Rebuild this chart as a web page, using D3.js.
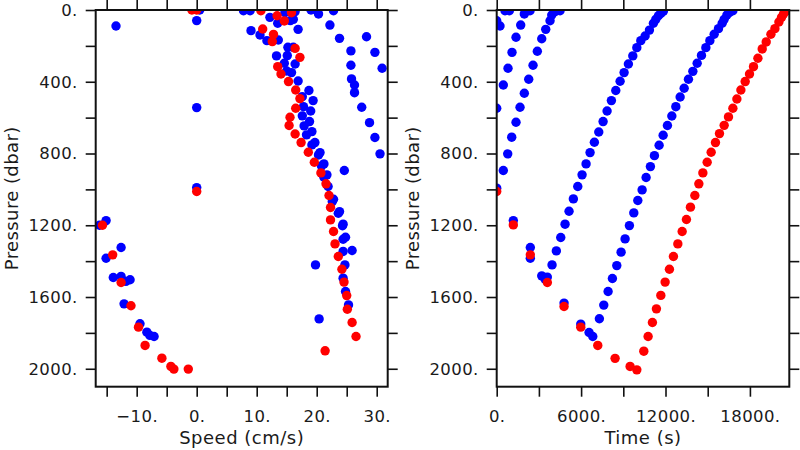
<!DOCTYPE html>
<html>
<head>
<meta charset="utf-8">
<script src="https://cdn.jsdelivr.net/npm/d3@7"></script>
<style>
  html, body { margin: 0; padding: 0; background: #fff; }
  svg { display: block; }
  text { font-family: "DejaVu Sans", sans-serif; fill: #1a1a1a; }
</style>
</head>
<body>
<svg id="chart" width="800" height="450"></svg>
<script>
// ---------------- DATA ----------------
// Left panel: [speed (cm/s), pressure (dbar)]
const speedBlue = [
  [0.5,0],[0,59],[-13.45,89],[0,544],[0,990],[-15.1,1174],[-16.2,1200],[-12.6,1324],[-15.1,1384],
  [-13.9,1491],[-12.6,1485],[-11.8,1513],[-11.1,1504],[-12.1,1638],[-9.45,1749],[-8.3,1796],[-7.8,1814],[-7.1,1820],
  [7.8,4],[8.9,4],[12.2,41],[14.7,15],[16.4,9],[16.1,52],[15.6,59],[13.5,74],[19.05,0],[20.3,22],[22.8,4],
  [22.2,84],[16.9,108],[9.05,115],[10.55,139],[11.7,171],[13.6,167],[23.8,158],[28.3,149],[15.2,208],[16.1,208],
  [25.7,228],[29.7,236],[13.3,256],[15.1,254],[14.6,297],[16.4,301],[25.7,308],[15.0,340],[15.8,349],[30.9,325],
  [16.9,396],[25.8,384],[26.3,418],[26.3,461],[18.7,449],[19.4,505],[17.6,483],[17.8,539],[19.0,563],[27.5,542],
  [17.6,590],[18.8,622],[17.9,646],[28.8,628],[19.2,678],[18.3,696],[19.7,739],[19.2,752],[29.7,711],[20.55,795],
  [20.3,808],[30.55,802],[21.2,858],[20.8,869],[24.6,895],[21.7,919],[21.2,932],[21.9,984],[22.8,1055],[22.6,1068],
  [23.8,1124],[23.6,1133],[24.4,1194],[24.3,1203],[24.8,1267],[24.4,1278],[24.4,1346],[25.9,1341],[19.8,1421],
  [24.7,1421],[24.4,1495],[24.8,1569],[25.3,1644],[20.4,1722]
];
const speedRed = [
  [-0.8,0],[0,0],[0,1012],[-15.7,1200],[-14.0,1365],[-12.6,1519],[-10.95,1649],[-9.7,1768],[-8.6,1870],
  [-5.8,1941],[-4.3,1987],[-3.8,2002],[-1.4,2002],
  [10.7,4],[13.4,32],[15.8,15],[14.6,61],[11.0,106],[12.8,136],[12.6,176],[16.4,214],[17.2,264],[13.5,316],
  [14.05,357],[15.3,399],[16.5,446],[17.2,494],[16.5,548],[15.55,598],[15.4,644],[16.4,691],[17.4,739],[18.6,793],
  [19.6,849],[20.7,908],[21.55,969],[22.05,1034],[22.3,1101],[22.3,1170],[22.8,1235],[23.05,1304],[23.6,1374],
  [24.2,1445],[24.55,1517],[25.0,1592],[25.1,1668],[25.9,1742],[26.55,1820],[21.4,1900]
];

// Right panel: [time (s), pressure (dbar)]
const timeBlue = [
  [0,60],[235,89],[0,548],[0,993],[590,4],[899,4],
  [1181,1174],[2390,1324],[2390,1384],[3201,1482],[3436,1500],[3600,1489],[4788,1634],[5976,1751],[6566,1798],[6830,1820],
  [470,418],[804,325],[1088,236],[1373,152],[1707,84],[1963,22],[2369,4],
  [470,895],[783,802],[1067,709],[1373,626],[1658,542],[1963,464],[2276,386],[2582,308],[2888,230],[3201,160],
  [3486,108],[3792,60],[3913,28],[4148,9],[4503,4],
  [3934,1421],[4240,1343],[4553,1268],[4859,1194],[5143,1122],[5449,1053],[5762,984],[6068,919],[6353,858],
  [6637,795],[6943,737],[7256,680],[7562,622],[7847,563],[8153,505],[8466,449],[8772,397],[9056,349],[9362,301],
  [9675,256],[9960,210],[10244,171],[10550,145],[10857,112],[11141,74],[11311,52],[11496,32],[11667,19],[11852,6],
  [7299,1721],[7612,1645],[7918,1569],[8224,1497],[8537,1425],[8843,1350],[9127,1276],[9433,1202],[9746,1131],
  [10031,1062],[10337,1003],[10621,934],[10927,873],[11212,812],[11546,754],[11831,698],[12137,644],[12450,591],
  [12734,539],[13040,485],[13325,436],[13631,386],[13944,342],[14250,297],[14556,253],[14868,210],[15153,171],
  [15459,135],[15765,104],[16028,74],[16170,52],[16362,28],[16547,13],[16789,4]
];
const timeRed = [
  [0,1012],[1181,1198],[2390,1365],[3600,1519],[4788,1653],[5976,1768],[7185,1870],[8416,1942],[9483,1987],[9960,2006],
  [10457,1902],[10764,1820],[11070,1742],[11354,1666],[11667,1591],[11973,1517],[12279,1445],[12564,1374],
  [12876,1304],[13183,1235],[13488,1168],[13773,1099],[14086,1034],
  [14370,969],[14655,908],[14961,849],[15245,793],[15552,739],[15837,689],[16170,643],[16477,596],[16789,548],
  [17074,496],[17358,446],[17664,399],[17970,357],[18255,316],[18568,269],[18874,217],[19158,178],[19493,135],
  [19777,104],[20061,67],[20247,41],[20389,22],[20560,6]
];

const speedTicks = [-15,-10,-5,0,5,10,15,20,25,30];
const speedLabeled = [-10,0,10,20,30];
const timeTicks = [0,3000,6000,9000,12000,15000,18000];
const timeLabeled = [0,6000,12000,18000];
const pressureTicks = [0,200,400,600,800,1000,1200,1400,1600,1800,2000];
const pressureLabeled = [0,400,800,1200,1600,2000];
const speedTitle = "Speed (cm/s)";
const timeTitle = "Time (s)";
const pressureTitle = "Pressure (dbar)";

// ---------------- DRAW ----------------
const svg = d3.select("#chart");
svg.append("rect").attr("width",800).attr("height",450).attr("fill","#fff");

const yTop = 10, yBot = 386.7;
const y = d3.scaleLinear().domain([0,2100]).range([yTop,yBot]);

const fmt = d => (d < 0 ? "\u2212" : "") + Math.abs(d) + ".";

function panel(id, x, xTicks, xLab, xTitle, blue, red) {
  const [x0, x1] = x.range();
  const g = svg.append("g");
  const tickFmtX = d => xLab.includes(d) ? fmt(d) : "";
  const tickFmtY = d => pressureLabeled.includes(d) ? fmt(d) : "";

  const styleAxis = a => {
    a.select(".domain").remove();
    a.selectAll(".tick line").attr("stroke","#111").attr("stroke-width",1.6);
    a.selectAll(".tick text").attr("fill","#1a1a1a").style("font-size","16.5px")
      .style("font-family","'DejaVu Sans', sans-serif").style("letter-spacing","0.4px");
  };

  g.append("g").attr("transform",`translate(0,${yBot})`)
    .call(d3.axisBottom(x).tickValues(xTicks).tickSize(10).tickPadding(14).tickFormat(tickFmtX))
    .call(styleAxis);
  g.append("g").attr("transform",`translate(0,${yTop})`)
    .call(d3.axisTop(x).tickValues(xTicks).tickSize(10).tickFormat(() => ""))
    .call(styleAxis);
  g.append("g").attr("transform",`translate(${x0},0)`)
    .call(d3.axisLeft(y).tickValues(pressureTicks).tickSize(10).tickPadding(8).tickFormat(tickFmtY))
    .call(styleAxis);
  g.append("g").attr("transform",`translate(${x1},0)`)
    .call(d3.axisRight(y).tickValues(pressureTicks).tickSize(10).tickFormat(() => ""))
    .call(styleAxis);

  svg.append("clipPath").attr("id", id)
    .append("rect").attr("x", x0).attr("y", yTop).attr("width", x1 - x0).attr("height", yBot - yTop);

  const pts = g.append("g").attr("clip-path", `url(#${id})`);
  pts.selectAll("circle.b").data(blue).join("circle").attr("class","b")
    .attr("cx", d => x(d[0])).attr("cy", d => y(d[1])).attr("r", 4.7).attr("fill", "#0000ff");
  pts.selectAll("circle.r").data(red).join("circle").attr("class","r")
    .attr("cx", d => x(d[0])).attr("cy", d => y(d[1])).attr("r", 4.7).attr("fill", "#ff0000");

  g.append("rect").attr("x", x0).attr("y", yTop).attr("width", x1 - x0).attr("height", yBot - yTop)
    .attr("fill","none").attr("stroke","#111").attr("stroke-width",2);

  g.append("text").attr("x", (x0 + x1) / 2).attr("y", 444)
    .attr("text-anchor","middle").style("font-size","18px").style("letter-spacing","0.5px").text(xTitle);
  g.append("text")
    .attr("transform", `translate(${x0 - 77.5},${(yTop + yBot) / 2}) rotate(-90)`)
    .attr("text-anchor","middle").style("font-size","18px").style("letter-spacing","0.4px").text(pressureTitle);
}

const xL = d3.scaleLinear().domain([-16.83, 31.83]).range([95.7, 387.7]);
const xR = d3.scaleLinear().domain([0, 20800]).range([496.7, 789.3]);

panel("clipL", xL, speedTicks, speedLabeled, speedTitle, speedBlue, speedRed);
panel("clipR", xR, timeTicks, timeLabeled, timeTitle, timeBlue, timeRed);
</script>
</body>
</html>
